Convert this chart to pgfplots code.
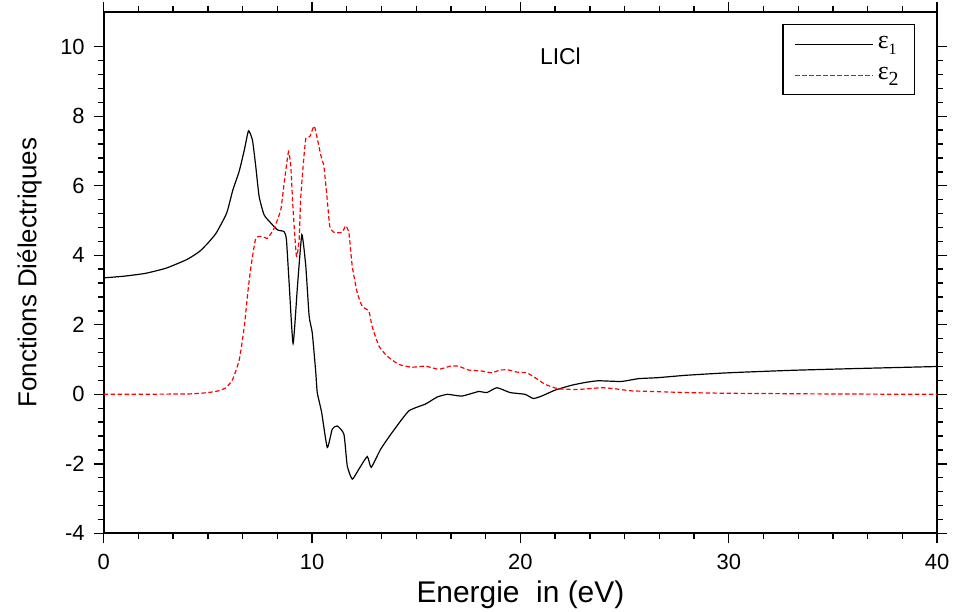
\documentclass[border=0pt]{standalone}
\usepackage{fontspec}
\setmainfont{Liberation Sans}
\newfontfamily\serifgreek{Liberation Serif}
\usepackage{pgfplots}
\pgfplotsset{compat=1.18}
\begin{document}
\begin{tikzpicture}
\begin{axis}[
  name=ax,
  scale only axis,
  width=418pt, height=261.5pt,
  xmin=0, xmax=40, ymin=-4, ymax=11,
  xtick={0,10,20,30,40},
  ytick={-4,-2,0,2,4,6,8,10},
  minor x tick num=5,
  minor y tick num=4,
  tick align=outside,
  tick pos=both,
  major tick length=5pt,
  minor tick length=3pt,
  every tick/.style={black, line width=0.7pt},
  axis line style={line width=1pt},
  /pgf/number format/assume math mode=true,
  ticklabel style={font=\fontsize{11}{13}\selectfont},
  xticklabel style={yshift=-2pt},
  yticklabel style={xshift=-1pt},
  xlabel={Energie\ \ in (eV)},
  ylabel={Fonctions Diélectriques},
  xlabel style={font=\fontsize{15}{18}\selectfont, inner sep=0pt, at={(axis description cs:0.5,-0.145)}, anchor=south},
  ylabel style={font=\fontsize{13}{16}\selectfont, inner sep=0pt, at={(axis description cs:-0.104,0.5)}, anchor=north},
  legend style={at={(axis description cs:0.9737,0.977)}, anchor=north east, draw=black, line width=0.6pt, fill=white, font=\fontsize{13}{16}\selectfont, inner xsep=6pt, inner ysep=4pt, row sep=4pt},
  legend cell align=left,
  legend image code/.code={\draw[#1] (0cm,0cm) -- (39pt,0cm);},
]
\addplot[black, line width=0.6pt, smooth, tension=0.3] coordinates {
(0,3.35) (1,3.40) (2,3.48) (3,3.63) (4,3.88) (4.6,4.11) (5.0,4.35) (5.4,4.64)
(5.9,5.21) (6.2,5.88) (6.5,6.41) (6.75,7.03) (6.95,7.58) (7.14,7.31) (7.30,6.55)
(7.46,5.69) (7.70,5.16) (8.02,4.93) (8.34,4.73) (8.66,4.68) (8.77,4.45) (8.90,3.20)
(9.09,1.46) (9.30,3.11) (9.51,4.59) (9.70,3.68) (9.86,2.25) (10.01,1.77) (10.18,0.62)
(10.25,0.05) (10.46,-0.52) (10.73,-1.53) (10.97,-1.00) (11.21,-0.91) (11.53,-1.15)
(11.69,-2.06) (11.93,-2.44) (12.25,-2.15) (12.65,-1.79) (12.84,-2.10) (13.29,-1.58)
(13.84,-1.10) (14.64,-0.48) (15.44,-0.28) (16.0,-0.08) (16.5,0.0) (17.19,-0.05)
(17.99,0.08) (18.39,0.05) (18.87,0.19) (19.51,0.05) (20.22,0.0) (20.62,-0.12)
(21.02,-0.05) (21.66,0.12) (22.45,0.26) (23.1,0.34) (23.73,0.39) (24.85,0.37)
(25.65,0.45) (26.6,0.48) (28,0.55) (30,0.62) (33,0.69) (36,0.74) (40,0.80)
};
\addlegendentry{\serifgreek ε\raisebox{-0.5ex}{\fontsize{8}{9}\selectfont 1}}
\addplot[red, line width=0.6pt, dash pattern=on 2.2pt off 1.3pt, smooth, tension=0.3] coordinates {
(0,0.0) (4,0.01) (5,0.05) (5.5,0.1) (5.87,0.19) (6.19,0.43) (6.51,1.0) (6.75,1.96)
(6.91,2.9) (7.07,3.68) (7.30,4.49) (7.62,4.54) (7.86,4.49) (8.18,4.78) (8.50,5.31)
(8.66,6.07) (8.87,6.98) (8.98,6.55) (9.09,5.31) (9.25,3.97) (9.38,4.45) (9.45,5.59)
(9.57,6.55) (9.70,7.36) (9.89,7.41) (10.10,7.72) (10.25,7.36) (10.42,6.88) (10.57,6.55)
(10.73,5.59) (10.85,4.83) (11.05,4.66) (11.45,4.66) (11.61,4.85) (11.77,4.64)
(11.93,3.68) (12.17,2.92) (12.41,2.53) (12.73,2.39) (12.88,1.96) (13.21,1.39)
(13.60,1.10) (14.16,0.86) (14.80,0.78) (15.44,0.81) (16.08,0.72) (16.63,0.81)
(17.03,0.81) (17.51,0.70) (18.15,0.67) (18.63,0.62) (19.03,0.70) (19.43,0.70)
(19.82,0.64) (20.30,0.62) (20.70,0.48) (21.18,0.29) (21.82,0.16) (22.78,0.14)
(23.89,0.19) (24.53,0.16) (25.33,0.10) (26.44,0.08) (28,0.05) (30,0.03) (35,0.01) (40,0.0)
};
\addlegendentry{\serifgreek ε\raisebox{-0.5ex}{\fontsize{10}{12}\selectfont 2}}
\node[font=\fontsize{11.5}{14}\selectfont] at (axis description cs:0.548,0.914) {LICl};
\end{axis}
\path (ax.south west) ++(-52pt,-39pt);
\path (ax.north east) ++(8pt,6pt);
\end{tikzpicture}
\end{document}
